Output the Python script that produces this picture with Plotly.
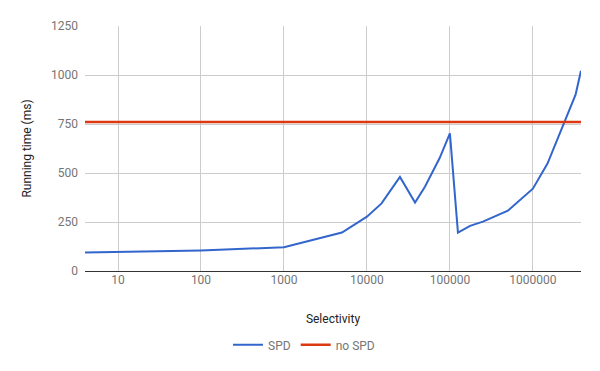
import plotly.graph_objects as go

# selectivity vs running time
sel = [4, 10, 100, 1000, 5000, 10000, 15000, 25000, 38000, 50000, 75000,
       100000, 125000, 175000, 250000, 500000, 1000000, 1500000, 3270000, 3800000]
spd = [95, 97, 105, 121, 196, 277, 345, 480, 349, 430, 575,
       702, 196, 230, 252, 308, 420, 548, 900, 1022]

nospd_x = [4, 3800000]
nospd = [760, 760]

x_ticks = [10, 100, 1000, 10000, 100000, 1000000]
x_labels = ["10", "100", "1000", "10000", "100000", "1000000"]
y_ticks = [0, 250, 500, 750, 1000, 1250]

fig = go.Figure()
fig.add_trace(go.Scatter(x=sel, y=spd, mode="lines", name="SPD",
                         line=dict(color="#3366cc", width=2)))
fig.add_trace(go.Scatter(x=nospd_x, y=nospd, mode="lines", name="no SPD",
                         line=dict(color="#dc3912", width=2.5)))

# page body has an 8px margin, so the figure is 592x363
fig.update_layout(
    width=592, height=363,
    margin=dict(l=77, r=19, t=18, b=100),
    paper_bgcolor="white", plot_bgcolor="white",
    font=dict(family="Roboto", size=12, color="#757575"),
    showlegend=True,
    legend=dict(orientation="h", xref="container", x=0.5, xanchor="center",
                yref="container", y=0.072, yanchor="middle",
                font=dict(size=12, color="#757575")),
)
fig.update_xaxes(
    type="log", range=[0.602, 6.58], automargin=False,
    tickvals=x_ticks, ticktext=x_labels,
    showgrid=True, gridcolor="#cccccc", gridwidth=1,
    zeroline=False, showline=False, ticks="",
    title=dict(text="Selectivity", font=dict(color="#222222", size=12), standoff=28),
)
fig.update_yaxes(
    range=[0, 1250], tickvals=y_ticks, automargin=False,
    showgrid=True, gridcolor="#cccccc", gridwidth=1,
    zeroline=True, zerolinecolor="#333333", zerolinewidth=1,
    showline=False, ticks="", ticklabelstandoff=6,
    title=dict(text="Running time (ms)", font=dict(color="#222222", size=12), standoff=16),
)

fig.write_html("out.html")
